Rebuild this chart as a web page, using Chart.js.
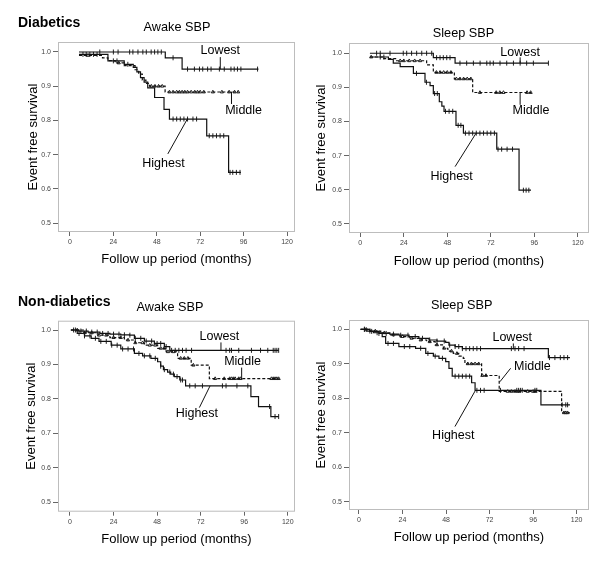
<!DOCTYPE html>
<html>
<head>
<meta charset="utf-8">
<title>Event free survival by SBP tertile</title>
<script src="https://cdn.jsdelivr.net/npm/chart.js@4/dist/chart.umd.min.js"></script>
<style>
  body { margin: 0; background: #fff; }
  #wrap { position: relative; width: 600px; height: 565px; background: #fff; }
  #wrap canvas { position: absolute; }
</style>
</head>
<body>
<div id="wrap"></div>
<script>
// tick labels and text
const monthTicks = [0, 24, 48, 72, 96, 120];
const survTicks = [0.5, 0.6, 0.7, 0.8, 0.9, 1.0];
const groupNames = ['Lowest', 'Middle', 'Highest'];
const cohortNames = ['Diabetics', 'Non-diabetics'];
const panelTitles = ['Awake SBP', 'Sleep SBP', 'Awake SBP', 'Sleep SBP'];

// Diabetics, awake SBP (step times in months, survival after the step, censor times)
const dAwakeLowT = [5, 52.7, 62, 104.2];
const dAwakeLowS = [1.0, 0.983, 0.950, 0.950];
const dAwakeLowC = [16.5, 24, 26.6, 33, 34.8, 37.6, 40.3, 42.2, 44.9, 46.8, 48.6, 50.5, 57, 65, 68.8, 71.6, 73.4, 76.1, 78, 82.6, 85.3, 89, 90.8, 92.6, 94.5, 103.7];
const dAwakeMidT = [5, 18, 21, 25, 30, 36, 38, 40, 42, 44, 52.6, 93.2];
const dAwakeMidS = [0.99, 0.983, 0.975, 0.968, 0.96, 0.948, 0.935, 0.918, 0.908, 0.90, 0.883, 0.883];
const dAwakeMidC = [10, 27, 45, 47, 49, 51, 55, 57, 59, 60.5, 62, 63.5, 65, 67, 69, 70.5, 72, 74, 79, 84, 88, 91, 93];
const dAwakeHighT = [5, 21, 30, 35, 37, 39, 41, 43, 46.8, 52, 55, 75.6, 87.7, 94.5];
const dAwakeHighS = [0.993, 0.974, 0.964, 0.955, 0.942, 0.925, 0.912, 0.895, 0.867, 0.832, 0.804, 0.755, 0.648, 0.648];
const dAwakeHighC = [7.2, 9, 11, 13, 15, 24, 26, 32, 57, 59, 61, 63, 65, 68, 70, 77, 79, 81, 83, 85, 88.5, 90, 92, 94];

// Diabetics, sleep SBP
const dSleepLowT = [5.3, 40.3, 52.3, 103.8];
const dSleepLowS = [1.0, 0.987, 0.971, 0.971];
const dSleepLowC = [9, 11, 16.4, 23.7, 25.6, 28.3, 31.1, 33.9, 36.6, 39.4, 42.1, 44, 45.8, 47.7, 49.5, 55, 58.7, 62.4, 66.1, 69.8, 71.6, 73.4, 77.1, 80.8, 84.5, 88.2, 91.8, 95.5, 103.8];
const dSleepMidT = [5.3, 12.3, 20, 36.6, 40.3, 51.9, 62, 94.2];
const dSleepMidS = [0.989, 0.984, 0.978, 0.966, 0.944, 0.925, 0.885, 0.885];
const dSleepMidC = [6, 22, 24, 27, 30, 33, 42, 44, 46, 48, 50, 53, 55, 57, 59, 61, 66, 75, 77, 79, 92, 94];
const dSleepHighT = [5.3, 15.5, 18.2, 22, 29.3, 35.7, 38.5, 40.3, 43.6, 45, 46.2, 52.8, 56.9, 75.3, 87.6, 94.2];
const dSleepHighS = [0.989, 0.982, 0.971, 0.961, 0.941, 0.915, 0.905, 0.882, 0.858, 0.845, 0.83, 0.789, 0.766, 0.719, 0.599, 0.599];
const dSleepHighC = [11, 13, 31, 36.5, 41, 42.5, 47, 49, 51, 54, 55.5, 58, 60, 62, 64, 66, 68, 70, 72, 74, 76, 78, 81, 84, 90, 91.5, 93];

// Non-diabetics, awake SBP
const nAwakeLowT = [0.5, 5, 10, 16.5, 22, 28, 32.8, 35.5, 41, 46.5, 52, 55, 115];
const nAwakeLowS = [1.0, 0.997, 0.994, 0.99, 0.988, 0.986, 0.985, 0.976, 0.968, 0.961, 0.952, 0.941, 0.941];
const nAwakeLowC = [3, 6, 9, 12, 15, 18, 21, 24, 27, 30, 33, 36, 39, 42, 45, 48, 50, 53, 56, 58, 60, 62, 64, 67, 86, 88, 89, 93, 100, 105, 109, 112, 113, 114, 115];
const nAwakeMidT = [0.5, 8, 15.4, 22, 30, 36, 41, 48.3, 53, 59.3, 66.8, 76.8, 115];
const nAwakeMidS = [1.0, 0.992, 0.985, 0.978, 0.971, 0.963, 0.956, 0.947, 0.937, 0.918, 0.898, 0.859, 0.859];
const nAwakeMidC = [4, 8, 12, 16, 20, 24, 28, 32, 36, 40, 44, 47, 50, 52, 54, 57, 61, 63, 65, 68, 80, 85, 88, 89, 90, 91, 93, 94, 111, 112, 113, 114, 115];
const nAwakeHighT = [0.5, 4, 8, 11.7, 16, 22.7, 28, 35.5, 40, 44.6, 48.3, 50, 51.5, 53.8, 55.5, 57.5, 60.5, 63.7, 99.7, 103.9, 110.7, 115];
const nAwakeHighS = [1.0, 0.99, 0.983, 0.976, 0.967, 0.956, 0.945, 0.932, 0.925, 0.918, 0.908, 0.895, 0.885, 0.878, 0.872, 0.865, 0.855, 0.838, 0.807, 0.778, 0.749, 0.749];
const nAwakeHighC = [2, 5, 8, 11, 14, 17, 20, 23, 26, 29, 32, 35, 38, 41, 44, 47, 50, 52, 55, 57, 59, 61, 62, 66, 69, 73, 84, 86, 92, 98, 110, 113, 115];

// Non-diabetics, sleep SBP
const nSleepLowT = [0.9, 6, 11, 17, 22, 27.6, 33, 38.6, 43, 47.8, 49.6, 53, 57, 104.4, 116.3];
const nSleepLowS = [1.0, 0.994, 0.988, 0.986, 0.983, 0.979, 0.974, 0.969, 0.966, 0.962, 0.954, 0.95, 0.944, 0.918, 0.918];
const nSleepLowC = [3, 7, 11, 15, 19, 23, 27, 31, 35, 39, 43, 47, 50, 53, 55, 57, 59, 61, 63, 65, 67, 84, 86, 88, 91, 105, 108, 111, 113, 115];
const nSleepMidT = [0.9, 6, 12, 17, 22.6, 28, 33, 37.3, 42, 46.5, 49, 52, 55, 57.5, 58.4, 67.6, 77.3, 111.7, 116.3];
const nSleepMidS = [1.0, 0.995, 0.99, 0.984, 0.979, 0.974, 0.969, 0.964, 0.955, 0.945, 0.937, 0.93, 0.922, 0.916, 0.9, 0.866, 0.82, 0.758, 0.758];
const nSleepMidC = [4, 9, 14, 19, 24, 29, 34, 39, 43, 47, 51, 54, 60, 62, 64, 66, 68, 70, 82, 84, 86, 88, 93, 96, 97, 113, 114, 115];
const nSleepHighT = [0.9, 4, 8, 12.8, 14.7, 22, 31.2, 36.8, 41, 44.1, 47.8, 49.6, 51.4, 62.1, 64, 100.3, 116.3];
const nSleepHighS = [1.0, 0.995, 0.99, 0.979, 0.959, 0.95, 0.945, 0.93, 0.922, 0.916, 0.906, 0.887, 0.864, 0.845, 0.823, 0.781, 0.781];
const nSleepHighC = [3, 6, 10, 16, 19, 25, 28, 34, 38, 42, 46, 53, 55, 57, 59, 61, 65, 67, 69, 78, 87, 88, 89, 90, 97, 98, 112, 114, 115];

const FONT = "'Liberation Sans', Arial, sans-serif";

// layout of each panel (pixels) and where the group labels sit (data units)
const panels = [
  { left: 0, top: 0, w: 300, h: 282, L: 58, R: 296, T: 42, B: 232, yTitleX: 33, xTitleY: 259,
    titleX: 177, titleY: 27, cohort: 0, cohortY: 23, xMin: -6.6, xMax: 124.4, yMin: 0.4737, yMax: 1.0292,
    series: [[dAwakeLowT, dAwakeLowS, dAwakeLowC], [dAwakeMidT, dAwakeMidS, dAwakeMidC], [dAwakeHighT, dAwakeHighS, dAwakeHighC]],
    notes: [{ at: [83.1, 1.004], from: [83.1, 0.985], to: [83.1, 0.950] },
            { at: [96, 0.828], from: [89.3, 0.884], to: [89.3, 0.848] },
            { at: [51.7, 0.674], from: [54.1, 0.702], to: [65.1, 0.806] }] },
  { left: 300, top: 0, w: 300, h: 282, L: 49, R: 289, T: 43, B: 233, yTitleX: 21.7, xTitleY: 261,
    titleX: 163.5, titleY: 33, cohort: -1, xMin: -6.24, xMax: 126.2, yMin: 0.4736, yMax: 1.030,
    series: [[dSleepLowT, dSleepLowS, dSleepLowC], [dSleepMidT, dSleepMidS, dSleepMidC], [dSleepHighT, dSleepHighS, dSleepHighC]],
    notes: [{ at: [88.2, 1.003], from: [88.2, 0.988], to: [88.2, 0.971] },
            { at: [94.2, 0.831], from: [88.2, 0.885], to: [88.2, 0.849] },
            { at: [50.4, 0.639], from: [52.3, 0.668], to: [63.9, 0.766] }] },
  { left: 0, top: 285, w: 300, h: 280, L: 58, R: 296, T: 35.7, B: 226.7, yTitleX: 31.7, xTitleY: 254,
    titleX: 170, titleY: 22.3, cohort: 1, cohortY: 16.7, xMin: -6.6, xMax: 124, yMin: 0.473, yMax: 1.027,
    series: [[nAwakeLowT, nAwakeLowS, nAwakeLowC], [nAwakeMidT, nAwakeMidS, nAwakeMidC], [nAwakeHighT, nAwakeHighS, nAwakeHighC]],
    notes: [{ at: [82.3, 0.981], from: [83.2, 0.964], to: [83.2, 0.941] },
            { at: [95.1, 0.908], from: [94.6, 0.891], to: [94.6, 0.859] },
            { at: [69.9, 0.758], from: [71.3, 0.775], to: [77.2, 0.838] }] },
  { left: 300, top: 285, w: 300, h: 280, L: 49, R: 289, T: 35, B: 225, yTitleX: 21, xTitleY: 252.3,
    titleX: 161.7, titleY: 20, cohort: -1, xMin: -5.5, xMax: 126.8, yMin: 0.476, yMax: 1.027,
    series: [[nSleepLowT, nSleepLowS, nSleepLowC], [nSleepMidT, nSleepMidS, nSleepMidC], [nSleepHighT, nSleepHighS, nSleepHighC]],
    notes: [{ at: [84.5, 0.976], from: [85.1, 0.959], to: [85.1, 0.942] },
            { at: [95.6, 0.892], from: [83.6, 0.887], to: [77.7, 0.848] },
            { at: [52, 0.693], from: [52.9, 0.718], to: [64, 0.821] }] }
];

// survival level of a step curve at time t
function stepAt(times, surv, t) {
  let s = surv[0];
  for (let i = 0; i < times.length; i++) if (times[i] <= t) s = surv[i];
  return s;
}

function makeOverlay(p, idx) {
  return {
    id: 'overlay' + idx,
    beforeDatasetsDraw(chart) {
      const { ctx, chartArea: a } = chart;
      ctx.save();
      ctx.strokeStyle = '#bdbdbd';
      ctx.lineWidth = 1;
      ctx.strokeRect(a.left + 0.5, a.top + 0.5, a.width - 1, a.height - 1);
      ctx.restore();
    },
    afterDraw(chart) {
      const { ctx, chartArea: a, scales: { x, y } } = chart;
      ctx.save();
      ctx.fillStyle = '#000';
      ctx.textBaseline = 'middle';
      if (p.cohort >= 0) {
        ctx.font = 'bold 14px ' + FONT;
        ctx.textAlign = 'left';
        ctx.fillText(cohortNames[p.cohort], 18, p.cohortY);
      }
      ctx.font = '12.7px ' + FONT;
      ctx.textAlign = 'center';
      ctx.fillText(panelTitles[idx], p.titleX, p.titleY);

      ctx.font = '12.5px ' + FONT;
      ctx.strokeStyle = '#111';
      ctx.lineWidth = 1;
      p.notes.forEach((n, i) => {
        ctx.fillText(groupNames[i], x.getPixelForValue(n.at[0]), y.getPixelForValue(n.at[1]));
        ctx.beginPath();
        ctx.moveTo(x.getPixelForValue(n.from[0]), y.getPixelForValue(n.from[1]));
        ctx.lineTo(x.getPixelForValue(n.to[0]), y.getPixelForValue(n.to[1]));
        ctx.stroke();
      });
      ctx.restore();
    }
  };
}

const wrap = document.getElementById('wrap');
panels.forEach((p, idx) => {
  const canvas = document.createElement('canvas');
  canvas.width = p.w;
  canvas.height = p.h;
  canvas.style.left = p.left + 'px';
  canvas.style.top = p.top + 'px';
  wrap.appendChild(canvas);

  const datasets = [];
  p.series.forEach(([times, surv, cens], i) => {
    datasets.push({
      type: 'line',
      data: times.map((t, k) => ({ x: t, y: surv[k] })),
      stepped: true,
      borderColor: '#111',
      borderWidth: 1.2,
      borderDash: i === 1 ? [3, 2] : [],
      pointRadius: 0,
      fill: false
    });
    datasets.push({
      type: 'scatter',
      data: cens.map(t => ({ x: t, y: stepAt(times, surv, t) })),
      pointStyle: i === 1 ? 'triangle' : 'line',
      rotation: i === 1 ? 0 : 90,
      pointRadius: i === 1 ? 1.8 : 2.5,
      borderColor: '#222',
      backgroundColor: 'rgba(0,0,0,0)',
      borderWidth: 1
    });
  });

  const padLeft = p.yTitleX - 7.8;
  const yWidth = p.L - padLeft;
  const xHeight = p.xTitleY + 7.8 - p.B;

  new Chart(canvas.getContext('2d'), {
    type: 'scatter',
    data: { datasets },
    options: {
      responsive: false,
      animation: false,
      events: [],
      layout: { padding: { left: padLeft, top: p.T, right: p.w - p.R, bottom: p.h - p.B - xHeight } },
      plugins: { legend: { display: false }, tooltip: { enabled: false }, title: { display: false } },
      scales: {
        x: {
          type: 'linear',
          min: p.xMin,
          max: p.xMax,
          afterBuildTicks: s => { s.ticks = monthTicks.map(v => ({ value: v })); },
          afterFit: s => { s.height = xHeight; },
          border: { display: false },
          grid: { drawOnChartArea: false, drawTicks: true, tickLength: 4, tickColor: '#666' },
          ticks: { font: { family: FONT, size: 7 }, color: '#444', padding: 2, maxRotation: 0, callback: v => String(v) },
          title: { display: true, text: 'Follow up period (months)', font: { family: FONT, size: 13 }, color: '#000', padding: 0 }
        },
        y: {
          type: 'linear',
          min: p.yMin,
          max: p.yMax,
          afterBuildTicks: s => { s.ticks = survTicks.map(v => ({ value: v })); },
          afterFit: s => { s.width = yWidth; },
          border: { display: false },
          grid: { drawOnChartArea: false, drawTicks: true, tickLength: 5, tickColor: '#666' },
          ticks: { font: { family: FONT, size: 7 }, color: '#444', padding: 2, callback: v => v.toFixed(1) },
          title: { display: true, text: 'Event free survival', font: { family: FONT, size: 13 }, color: '#000', padding: 0 }
        }
      }
    },
    plugins: [makeOverlay(p, idx)]
  });
});
</script>
</body>
</html>
